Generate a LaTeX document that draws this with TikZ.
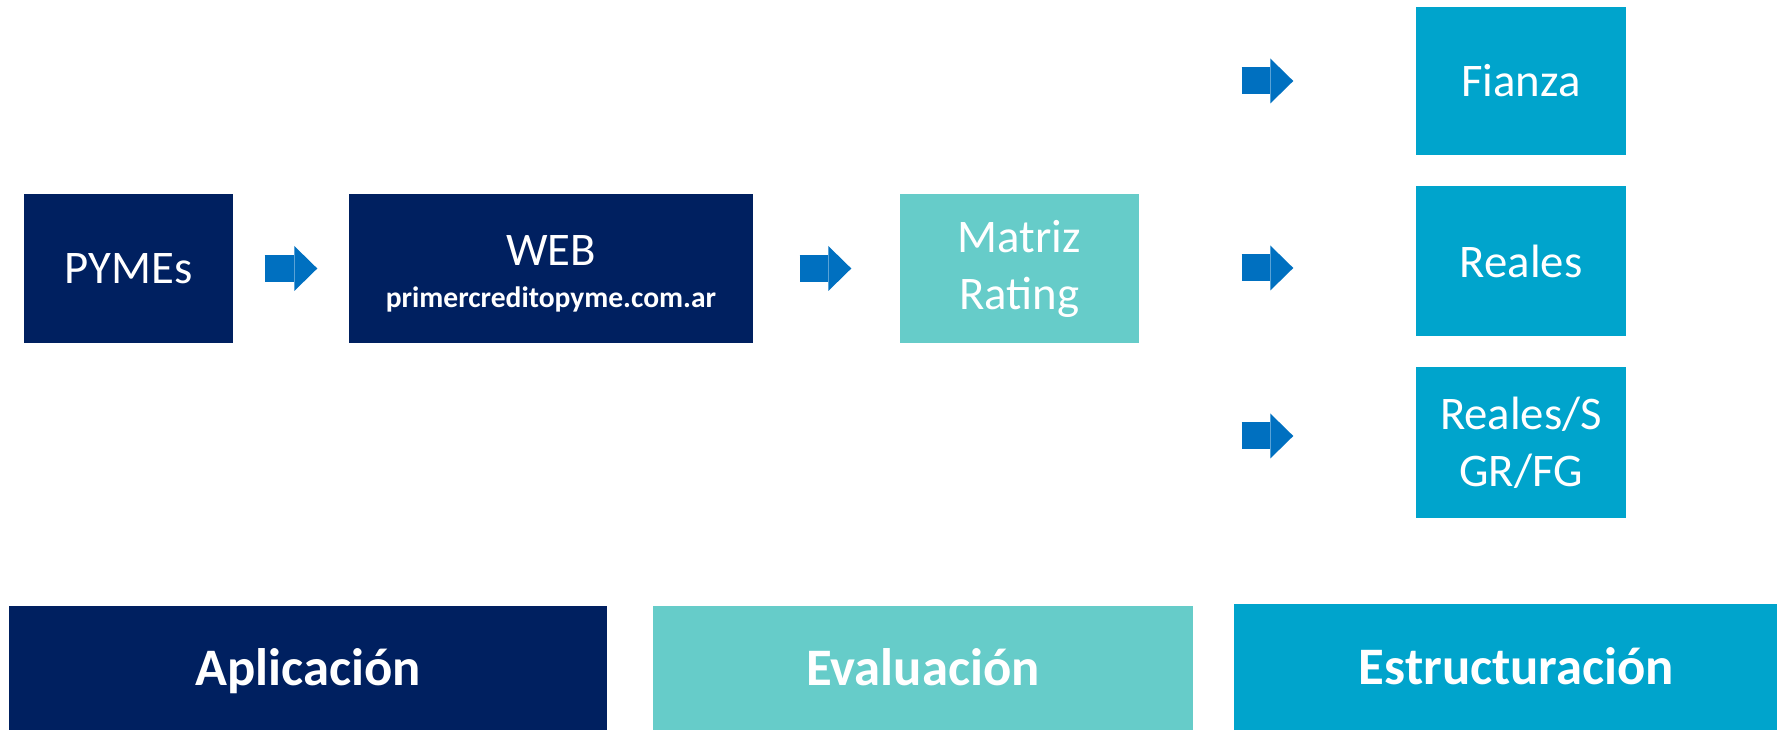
\documentclass[tikz,border=0pt]{standalone}
\usepackage{fontspec}
\setmainfont{Carlito}
\usetikzlibrary{arrows.meta}
\definecolor{navyblue}{RGB}{0,32,96}
\definecolor{evalteal}{RGB}{102,204,201}
\definecolor{estrucblue}{RGB}{0,164,204}
\definecolor{arrowblue}{RGB}{0,112,192}

\begin{document}
\begin{tikzpicture}[
    box/.style={text=white, inner sep=0pt, align=center, minimum height=1.49cm,
      font=\fontsize{13.3}{16.2}\selectfont},
    stage/.style={text=white, inner sep=0pt, minimum height=1.24cm,
      text height=12.2pt, text depth=2pt,
      font=\bfseries\fontsize{15}{18}\selectfont},
    flow/.style={arrowblue, line width=0.27cm,
      -{Triangle[length=0.23cm, width=0.45cm, line width=0pt]}}
  ]
      \useasboundingbox (0,0) rectangle (17.77,7.30);
      % top row
      \node[box, fill=navyblue, minimum width=2.09cm] (pymes) at (1.285,4.615) {PYMEs};
      \node[box, fill=navyblue, minimum width=4.04cm] (web) at (5.51,4.615)
        {\rule{0pt}{11.8pt}WEB\\[-4.2pt]{\bfseries\fontsize{8.4}{10}\selectfont primercreditopyme.com.ar}};
      \node[box, fill=evalteal, minimum width=2.39cm] (matriz) at (10.195,4.615) {Matriz\\Rating};
      \node[box, fill=estrucblue, minimum width=2.10cm, minimum height=1.48cm] (fianza) at (15.21,6.49) {Fianza};
      \node[box, fill=estrucblue, minimum width=2.10cm, minimum height=1.50cm] (reales) at (15.21,4.69) {Reales};
      \node[box, fill=estrucblue, minimum width=2.10cm, minimum height=1.51cm] (sgr) at (15.21,2.875) {Reales/S\\GR/FG};
      \draw[flow, shorten <=0.31cm, shorten >=0.31cm] (pymes) -- (web);
      \draw[flow, shorten <=0.46cm, shorten >=0.48cm] (web) -- (matriz);
      \draw[flow, shorten <=1.02cm, shorten >=1.22cm] (matriz.east |- fianza.west) -- (fianza.west);
      \draw[flow, shorten <=1.02cm, shorten >=1.22cm] ([yshift=-0.07cm]matriz.east |- reales.west) -- ([yshift=-0.07cm]reales.west);
      \draw[flow, shorten <=1.02cm, shorten >=1.22cm] ([yshift=0.065cm]matriz.east |- sgr.west) -- ([yshift=0.065cm]sgr.west);
      % bottom row
      \node[stage, fill=navyblue, minimum width=5.98cm] (aplic) at (3.08,0.62) {Aplicación};
      \node[stage, fill=evalteal, minimum width=5.40cm] (evalu) at (9.23,0.62) {Evaluación};
      \node[stage, fill=estrucblue, minimum width=5.65cm, minimum height=1.26cm] (estruc) at (15.165,0.63) {Estructuración};
\end{tikzpicture}
\end{document}
